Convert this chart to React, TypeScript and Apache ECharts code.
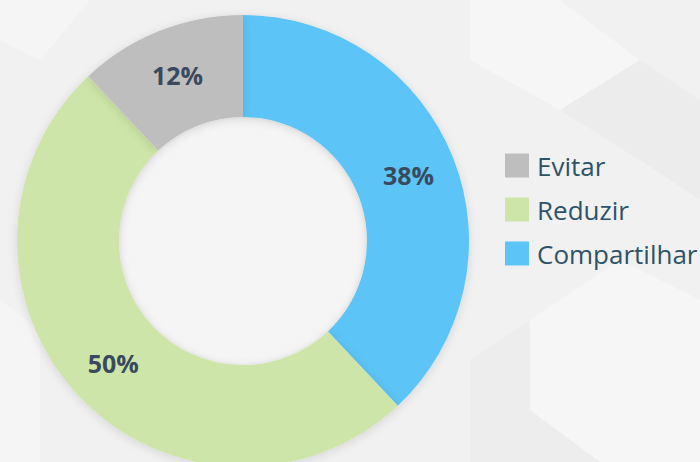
import React, { useEffect, useRef } from "react";
import * as echarts from "echarts";

const categories = ["Compartilhar", "Reduzir", "Evitar"];
const values = [38, 50, 12];
const colors = ["#5cc4f6", "#cde5a8", "#bebebe"];
const legendOrder = ["Evitar", "Reduzir", "Compartilhar"];

export default function App() {
  const ref = useRef<HTMLDivElement>(null);
  useEffect(() => {
    if (!ref.current) return;
    const chart = echarts.init(ref.current, undefined, { renderer: "svg" });
    const bgShapes = [
      { points: [[470, 0], [560, 0], [640, 60], [560, 110], [470, 60]], fill: "rgba(255,255,255,0.35)" },
      { points: [[560, 110], [640, 60], [700, 100], [700, 200], [640, 160]], fill: "rgba(225,225,225,0.25)" },
      { points: [[530, 320], [620, 260], [700, 300], [700, 462], [600, 462], [530, 410]], fill: "rgba(255,255,255,0.4)" },
      { points: [[530, 320], [470, 360], [470, 462], [600, 462], [530, 410]], fill: "rgba(228,228,228,0.3)" },
      { points: [[0, 300], [40, 330], [40, 462], [0, 462]], fill: "rgba(255,255,255,0.3)" },
      { points: [[0, 0], [90, 0], [40, 60], [0, 40]], fill: "rgba(255,255,255,0.3)" },
    ];
    chart.setOption({
      animation: false,
      backgroundColor: "#f1f1f1",
      graphic: [
        ...bgShapes.map((s) => ({
          type: "polygon",
          z: -10,
          silent: true,
          shape: { points: s.points },
          style: { fill: s.fill },
        })),
        {
          type: "circle",
          z: -9,
          silent: true,
          shape: { cx: 243, cy: 241, r: 122 },
          style: { fill: "rgba(255,255,255,0.3)" },
        },
      ],
      legend: {
        orient: "vertical",
        left: 500,
        top: 147,
        itemWidth: 24,
        itemHeight: 24,
        itemGap: 17,
        icon: "rect",
        data: legendOrder,
        textStyle: {
          fontFamily: "Open Sans",
          fontSize: 26,
          lineHeight: 24,
          color: "#2d5368",
          padding: [3, 0, 0, 3],
        },
      },
      series: [
        {
          type: "pie",
          center: [243, 241],
          radius: [124, 226],
          startAngle: 90,
          clockwise: true,
          color: colors,
          itemStyle: {
            shadowBlur: 10,
            shadowColor: "rgba(0,0,0,0.12)",
            shadowOffsetY: 2,
          },
          label: {
            show: true,
            position: "inside",
            formatter: "{c}%",
            fontFamily: "Open Sans",
            fontWeight: "bold",
            fontSize: 25,
            color: "#3a4a5e",
          },
          labelLine: { show: false },
          emphasis: { disabled: true },
          data: categories.map((name, i) => ({ name, value: values[i] })),
        },
      ],
    });
    return () => chart.dispose();
  }, []);
  return (
    <div
      ref={ref}
      style={{ position: "fixed", left: 0, top: 0, width: 700, height: 462 }}
    />
  );
}
